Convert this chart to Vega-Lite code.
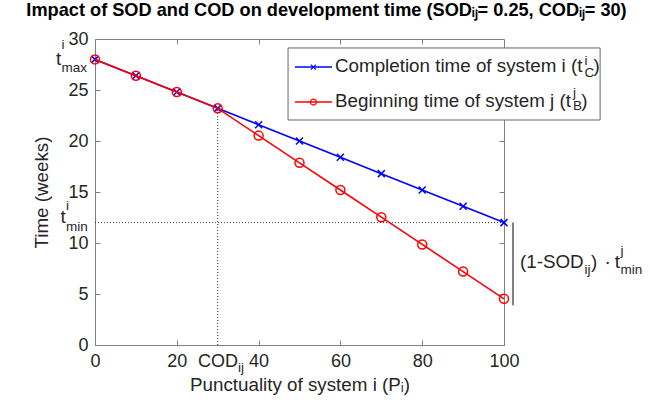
{
  "$schema": "https://vega.github.io/schema/vega-lite/v6.json",
  "width": 409,
  "height": 306,
  "autosize": {"type": "none"},
  "padding": {"left": 95, "top": 39, "right": 146, "bottom": 55},
  "background": "white",
  "title": {
    "text": "Impact of SOD and COD on development time (SODᵢⱼ= 0.25, CODᵢⱼ= 30)",
    "font": "Liberation Sans",
    "fontSize": 18.2,
    "fontWeight": "bold",
    "color": "#000000",
    "anchor": "middle",
    "dx": 27,
    "offset": 10
  },
  "config": {
    "view": {"stroke": "#808080", "strokeWidth": 1},
    "axis": {
      "grid": false,
      "domainColor": "#808080",
      "tickColor": "#808080",
      "labelColor": "#262626",
      "titleColor": "#262626",
      "labelFont": "Liberation Sans",
      "titleFont": "Liberation Sans",
      "labelFontSize": 18,
      "titleFontSize": 18.8,
      "titleFontWeight": "normal",
      "labelFlush": false,
      "labelOverlap": false,
      "tickSize": -5
    },
    "text": {"font": "Liberation Sans", "color": "#262626"}
  },
  "datasets": {
    "series": [
      {"P": 0, "t": 28, "s": "C"}, {"P": 10, "t": 26.4, "s": "C"}, {"P": 20, "t": 24.8, "s": "C"},
      {"P": 30, "t": 23.2, "s": "C"}, {"P": 40, "t": 21.6, "s": "C"}, {"P": 50, "t": 20, "s": "C"},
      {"P": 60, "t": 18.4, "s": "C"}, {"P": 70, "t": 16.8, "s": "C"}, {"P": 80, "t": 15.2, "s": "C"},
      {"P": 90, "t": 13.6, "s": "C"}, {"P": 100, "t": 12, "s": "C"},
      {"P": 0, "t": 28, "s": "B"}, {"P": 10, "t": 26.4, "s": "B"}, {"P": 20, "t": 24.8, "s": "B"},
      {"P": 30, "t": 23.2, "s": "B"}, {"P": 40, "t": 20.53, "s": "B"}, {"P": 50, "t": 17.86, "s": "B"},
      {"P": 60, "t": 15.2, "s": "B"}, {"P": 70, "t": 12.53, "s": "B"}, {"P": 80, "t": 9.86, "s": "B"},
      {"P": 90, "t": 7.2, "s": "B"}, {"P": 100, "t": 4.53, "s": "B"}
    ],
    "guides": [
      {"x": 30, "x2": 30, "y": 0, "y2": 23.2},
      {"x": 0, "x2": 100, "y": 12, "y2": 12}
    ],
    "bracket": [{"x": 102.2, "y": 3.9, "y2": 12}],
    "legendBox": [{"x": 47.2, "x2": 123.5, "y": 29.12, "y2": 22.06}],
    "legendKeys": [
      {"x": 48.9, "x2": 57.95, "xm": 53.4, "y": 27.25, "s": "C"},
      {"x": 48.9, "x2": 57.95, "xm": 53.4, "y": 23.82, "s": "B"}
    ],
    "bigText": [
      {"x": 58.68, "y": 26.76, "text": "Completion time of system i (t"},
      {"x": 121.9, "y": 26.76, "text": ")"},
      {"x": 58.68, "y": 23.33, "text": "Beginning time of system j (t"},
      {"x": 118.9, "y": 23.33, "text": ")"},
      {"x": -9.54, "y": 27.45, "text": "t"},
      {"x": -8.44, "y": 11.96, "text": "t"},
      {"x": 103.9, "y": 7.55, "text": "(1-SOD"},
      {"x": 121.27, "y": 7.55, "text": ")"},
      {"x": 124.6, "y": 7.55, "text": "·"},
      {"x": 127.1, "y": 7.55, "text": "t"}
    ],
    "tickText": [
      {"x": 25.18, "y": -2.16, "text": "COD"}
    ],
    "smallText": [
      {"x": 119.7, "y": 27.45, "text": "i"},
      {"x": 119.7, "y": 26.27, "text": "C"},
      {"x": 116.9, "y": 24.31, "text": "j"},
      {"x": 116.9, "y": 23.04, "text": "B"},
      {"x": -8.19, "y": 29.02, "text": "i"},
      {"x": -8.19, "y": 26.76, "text": "max"},
      {"x": -7.09, "y": 13.24, "text": "i"},
      {"x": -7.09, "y": 11.18, "text": "min"},
      {"x": 34.96, "y": -2.65, "text": "ij"},
      {"x": 119.66, "y": 6.96, "text": "ij"},
      {"x": 128.5, "y": 8.82, "text": "j"},
      {"x": 128.5, "y": 6.96, "text": "min"}
    ]
  },
  "resolve": {"axis": {"x": "independent", "y": "independent"}},
  "layer": [
    {
      "data": {"name": "guides"},
      "mark": {"type": "rule", "color": "#333333", "strokeWidth": 1, "strokeDash": [1, 2]},
      "encoding": {
        "x": {"field": "x", "type": "quantitative", "scale": {"domain": [0, 100]},
              "axis": {"orient": "top", "labels": false, "title": null, "domain": false, "values": [20, 40, 60, 80]}},
        "x2": {"field": "x2"},
        "y": {"field": "y", "type": "quantitative", "scale": {"domain": [0, 30]},
              "axis": {"orient": "right", "labels": false, "title": null, "domain": false, "values": [5, 10, 15, 20, 25]}},
        "y2": {"field": "y2"}
      }
    },
    {
      "data": {"name": "series"},
      "transform": [{"filter": "datum.s === 'C'"}],
      "mark": {"type": "line", "color": "#0000ff", "strokeWidth": 1.6},
      "encoding": {
        "x": {"field": "P", "type": "quantitative", "scale": {"domain": [0, 100]},
              "axis": {"orient": "bottom", "values": [0, 20, 40, 60, 80, 100], "labelPadding": 12,
                       "title": "Punctuality of system i (Pᵢ)", "titleY": 45, "titleBaseline": "alphabetic"}},
        "y": {"field": "t", "type": "quantitative", "scale": {"domain": [0, 30]},
              "axis": {"orient": "left", "values": [0, 5, 10, 15, 20, 25, 30], "labelPadding": 12,
                       "title": "Time (weeks)", "titleX": -48, "titleY": 153, "titleAngle": -90,
                       "titleAlign": "center", "titleBaseline": "alphabetic"}}
      }
    },
    {
      "data": {"name": "series"},
      "transform": [{"filter": "datum.s === 'C'"}],
      "mark": {"type": "point", "shape": "M-1,-1L1,1M-1,1L1,-1", "filled": false, "color": "#0000ff", "strokeWidth": 1.5, "size": 49, "opacity": 1},
      "encoding": {
        "x": {"field": "P", "type": "quantitative", "axis": null},
        "y": {"field": "t", "type": "quantitative", "axis": null}
      }
    },
    {
      "data": {"name": "series"},
      "transform": [{"filter": "datum.s === 'B'"}],
      "mark": {"type": "line", "color": "#ff0000", "strokeWidth": 1.6},
      "encoding": {
        "x": {"field": "P", "type": "quantitative", "axis": null},
        "y": {"field": "t", "type": "quantitative", "axis": null}
      }
    },
    {
      "data": {"name": "series"},
      "transform": [{"filter": "datum.s === 'B'"}],
      "mark": {"type": "point", "shape": "circle", "filled": false, "color": "#ff0000", "strokeWidth": 1.5, "size": 81, "opacity": 1},
      "encoding": {
        "x": {"field": "P", "type": "quantitative", "axis": null},
        "y": {"field": "t", "type": "quantitative", "axis": null}
      }
    },
    {
      "data": {"name": "bracket"},
      "mark": {"type": "rule", "color": "#555555", "strokeWidth": 1.5},
      "encoding": {
        "x": {"field": "x", "type": "quantitative", "axis": null},
        "y": {"field": "y", "type": "quantitative", "axis": null},
        "y2": {"field": "y2"}
      }
    },
    {
      "data": {"name": "legendBox"},
      "mark": {"type": "rect", "fill": "white", "stroke": "#666666", "strokeWidth": 1},
      "encoding": {
        "x": {"field": "x", "type": "quantitative", "axis": null},
        "x2": {"field": "x2"},
        "y": {"field": "y", "type": "quantitative", "axis": null},
        "y2": {"field": "y2"}
      }
    },
    {
      "data": {"name": "legendKeys"},
      "mark": {"type": "rule", "strokeWidth": 1.5},
      "encoding": {
        "x": {"field": "x", "type": "quantitative", "axis": null},
        "x2": {"field": "x2"},
        "y": {"field": "y", "type": "quantitative", "axis": null},
        "color": {"field": "s", "type": "nominal", "scale": {"domain": ["C", "B"], "range": ["#0000ff", "#ff0000"]}, "legend": null}
      }
    },
    {
      "data": {"name": "legendKeys"},
      "transform": [{"filter": "datum.s === 'C'"}],
      "mark": {"type": "point", "shape": "M-1,-1L1,1M-1,1L1,-1", "filled": false, "color": "#0000ff", "strokeWidth": 1.2, "size": 25, "opacity": 1},
      "encoding": {
        "x": {"field": "xm", "type": "quantitative", "axis": null},
        "y": {"field": "y", "type": "quantitative", "axis": null}
      }
    },
    {
      "data": {"name": "legendKeys"},
      "transform": [{"filter": "datum.s === 'B'"}],
      "mark": {"type": "point", "shape": "circle", "filled": false, "color": "#ff0000", "strokeWidth": 1.2, "size": 36, "opacity": 1},
      "encoding": {
        "x": {"field": "xm", "type": "quantitative", "axis": null},
        "y": {"field": "y", "type": "quantitative", "axis": null}
      }
    },
    {
      "data": {"name": "bigText"},
      "mark": {"type": "text", "align": "left", "baseline": "alphabetic", "fontSize": 18.8, "color": "#262626"},
      "encoding": {
        "x": {"field": "x", "type": "quantitative", "axis": null},
        "y": {"field": "y", "type": "quantitative", "axis": null},
        "text": {"field": "text"}
      }
    },
    {
      "data": {"name": "tickText"},
      "mark": {"type": "text", "align": "left", "baseline": "alphabetic", "fontSize": 18, "color": "#262626"},
      "encoding": {
        "x": {"field": "x", "type": "quantitative", "axis": null},
        "y": {"field": "y", "type": "quantitative", "axis": null},
        "text": {"field": "text"}
      }
    },
    {
      "data": {"name": "smallText"},
      "mark": {"type": "text", "align": "left", "baseline": "alphabetic", "fontSize": 13.5, "color": "#262626"},
      "encoding": {
        "x": {"field": "x", "type": "quantitative", "axis": null},
        "y": {"field": "y", "type": "quantitative", "axis": null},
        "text": {"field": "text"}
      }
    }
  ]
}
